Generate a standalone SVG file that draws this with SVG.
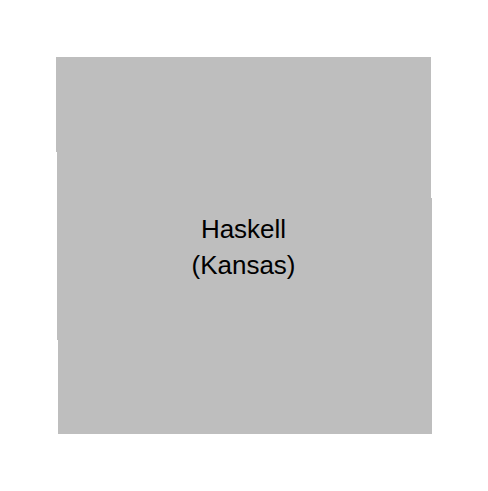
<svg xmlns="http://www.w3.org/2000/svg" width="488" height="491" viewBox="0 0 488 491">
<style>
.region{fill:#bebebe;stroke:none;shape-rendering:crispEdges}
.label{font-family:"Liberation Sans",Arial,sans-serif;font-size:26px;fill:#000;text-anchor:middle}
</style>
<rect width="488" height="491" fill="#fff"/>
<g id="haskell">
<path class="region" d="M56 57H431V198H432V434H58V340H57V152H56Z"/>
<text class="label" x="243.5" y="238">Haskell</text>
<text class="label" x="243.5" y="274">(Kansas)</text>
</g>
</svg>
